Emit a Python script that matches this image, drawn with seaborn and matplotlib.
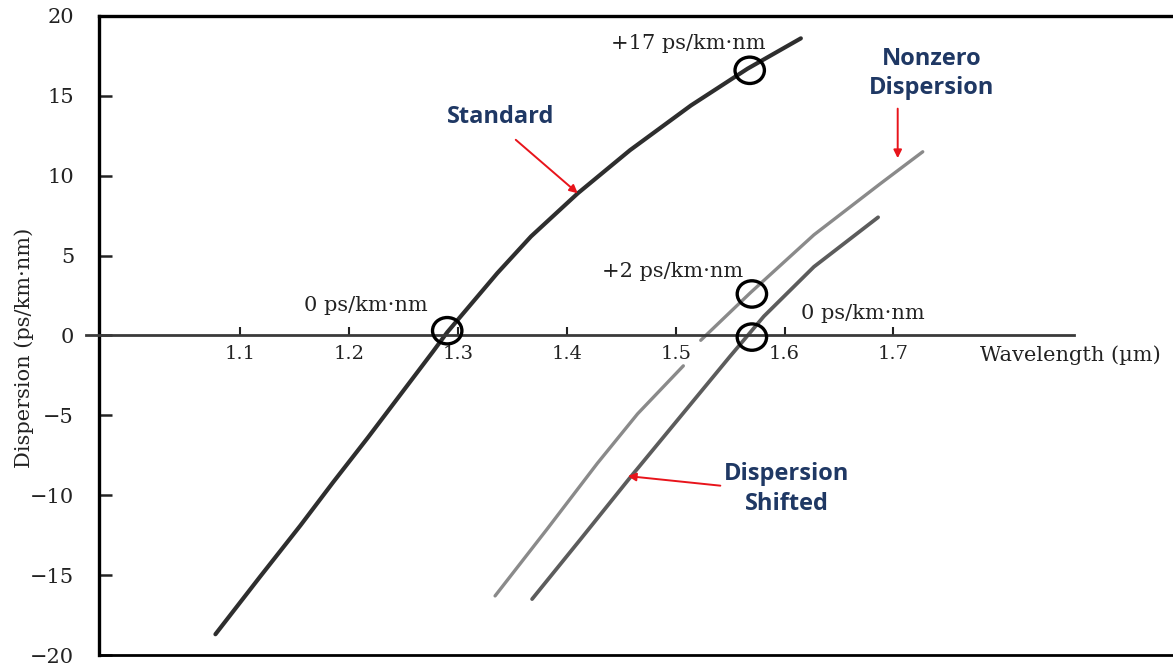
import numpy as np
import pandas as pd
import matplotlib
matplotlib.use("Agg")
import matplotlib.pyplot as plt
from matplotlib.patches import Ellipse
import seaborn as sns

# Fibre dispersion curves: wavelength (um) vs dispersion (ps/km.nm)
standard_wl = [1.077, 1.118, 1.155, 1.185, 1.217, 1.247, 1.277, 1.290, 1.336,
               1.367, 1.410, 1.458, 1.514, 1.566, 1.615]
standard_d = [-18.7, -15.1, -11.9, -9.2, -6.4, -3.7, -1.0, 0.2, 3.9,
              6.2, 8.9, 11.6, 14.4, 16.7, 18.6]

nz_low_wl = [1.334, 1.382, 1.428, 1.465, 1.507]
nz_low_d = [-16.3, -12.1, -8.0, -4.9, -1.9]
nz_high_wl = [1.523, 1.569, 1.627, 1.688, 1.727]
nz_high_d = [-0.3, 2.7, 6.3, 9.5, 11.5]

ds_wl = [1.368, 1.412, 1.458, 1.504, 1.550, 1.581, 1.627, 1.686]
ds_d = [-16.5, -12.8, -8.9, -5.1, -1.3, 1.2, 4.3, 7.4]

# Highlighted operating points
mark_wl = [1.290, 1.568, 1.570, 1.570]
mark_d = [0.3, 16.6, 2.6, -0.1]

x_ticks = [1.1, 1.2, 1.3, 1.4, 1.5, 1.6, 1.7]
y_ticks = [-20, -15, -10, -5, 0, 5, 10, 15, 20]

sns.set_theme(style="white")
plt.rcParams["font.family"] = ["DejaVu Serif"]

fig = plt.figure(figsize=(11.73, 6.66), dpi=100)
ax = fig.add_axes([0.0844, 0.0165, 0.9156, 0.9595])

line_kw = dict(ax=ax, sort=False, estimator=None,
               solid_capstyle="round", solid_joinstyle="round")
sns.lineplot(x=standard_wl, y=standard_d, color="#2e2e2e", lw=3.0, **line_kw)
sns.lineplot(x=nz_low_wl, y=nz_low_d, color="#8a8a8a", lw=2.4, **line_kw)
sns.lineplot(x=nz_high_wl, y=nz_high_d, color="#8a8a8a", lw=2.4, **line_kw)
sns.lineplot(x=ds_wl, y=ds_d, color="#5c5c5c", lw=2.7, **line_kw)

ax.set_xlim(0.970, 1.957)
ax.set_ylim(-20, 20)

for wx, dy in zip(mark_wl, mark_d):
    ax.add_patch(Ellipse((wx, dy), width=0.027, height=1.65, fill=False,
                         edgecolor="black", lw=2.4, zorder=5))

# Frame: left and top spines, bottom frame line, wavelength axis through zero
ax.spines["right"].set_visible(False)
for side in ["left", "top"]:
    ax.spines[side].set_linewidth(2.4)
    ax.spines[side].set_color("black")
ax.spines["bottom"].set_position(("data", 0))
ax.spines["bottom"].set_bounds(0.958, 1.866)
ax.spines["bottom"].set_linewidth(2.0)
ax.spines["bottom"].set_color("#3a3a3a")
ax.axhline(-20, color="black", lw=2.0, clip_on=False)

ax.set_xticks(x_ticks)
ax.set_xticklabels([f"{v:.1f}" for v in x_ticks])
ax.set_yticks(y_ticks)
ax.set_yticklabels([str(v).replace("-", "\u2212") for v in y_ticks])
ax.tick_params(axis="x", direction="in", length=6, width=1.5, pad=7,
               labelsize=14, colors="#222222", bottom=True)
ax.tick_params(axis="y", direction="in", length=9, width=1.8, pad=18,
               labelsize=15, colors="#222222", left=True)

ax.set_ylabel("Dispersion (ps/km\u00b7nm)", fontsize=15, color="#222222")
ax.yaxis.set_label_coords(-0.0605, 0.48)
ax.text(1.780, -1.2, "Wavelength (\u00b5m)", fontsize=15, color="#222222",
        ha="left", va="center")

serif_kw = dict(fontsize=15, color="#222222", ha="center", va="center")
ax.text(1.512, 18.3, "+17 ps/km\u00b7nm", **serif_kw)
ax.text(1.215, 1.9, "0 ps/km\u00b7nm", **serif_kw)
ax.text(1.497, 4.0, "+2 ps/km\u00b7nm", **serif_kw)
ax.text(1.672, 1.4, "0 ps/km\u00b7nm", **serif_kw)

label_kw = dict(fontsize=17, fontweight="bold", color="#1f3864",
                ha="center", va="center", family=["Open Sans", "DejaVu Sans"])
ax.text(1.339, 13.7, "Standard", **label_kw)
ax.text(1.735, 16.4, "Nonzero\nDispersion", linespacing=1.3, **label_kw)
ax.text(1.602, -9.6, "Dispersion\nShifted", linespacing=1.3, **label_kw)

arrow_kw = dict(arrowstyle="-|>", color="#e8141b", lw=1.4,
                mutation_scale=12, shrinkA=0, shrinkB=0)
ax.annotate("", xy=(1.410, 8.9), xytext=(1.353, 12.25), arrowprops=arrow_kw)
ax.annotate("", xy=(1.704, 11.1), xytext=(1.704, 14.2), arrowprops=arrow_kw)
ax.annotate("", xy=(1.456, -8.8), xytext=(1.541, -9.4), arrowprops=arrow_kw)

fig.savefig("out.png", dpi=100)
